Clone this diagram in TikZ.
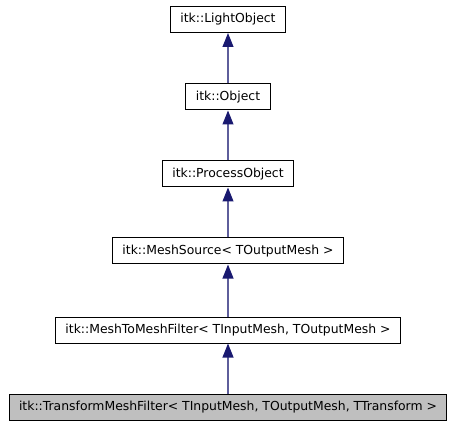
\documentclass[tikz,border=0pt]{standalone}
\usepackage{fontspec}
\setmainfont{DejaVu Sans}
\usetikzlibrary{arrows.meta, positioning}
\definecolor{edgeblue}{HTML}{191970}
\definecolor{classgray}{HTML}{BFBFBF}

\begin{document}
\begin{tikzpicture}[x=0.75pt, y=-0.75pt,
  classbox/.style={rectangle, draw=black, fill=white, line width=0.75pt, minimum height=19.5pt, inner xsep=7.5pt, inner ysep=0pt, font=\fontsize{9.3}{11}\selectfont},
  inherit/.style={-{Triangle[length=10.5pt, width=8.2pt, color=edgeblue]}, draw=edgeblue!70, line width=0.8pt}
]
  \useasboundingbox (0,0) rectangle (456,427);
  \node[classbox] (lightobj) at (228, 19.5) {itk::LightObject};
  \node[classbox] (object) at (228, 97) {itk::Object};
  \node[classbox] (procobj) at (228, 174) {itk::ProcessObject};
  \node[classbox] (meshsrc) at (228, 251) {itk::MeshSource< TOutputMesh >};
  \node[classbox] (mesh2mesh) at (228, 330) {itk::MeshToMeshFilter< TInputMesh, TOutputMesh >};
  \node[classbox, fill=classgray] (transform) at (228, 407) {itk::TransformMeshFilter< TInputMesh, TOutputMesh, TTransform >};

  \draw[inherit] (object) -- (lightobj);
  \draw[inherit] (procobj) -- (object);
  \draw[inherit] (meshsrc) -- (procobj);
  \draw[inherit] (mesh2mesh) -- (meshsrc);
  \draw[inherit] (transform) -- (mesh2mesh);
\end{tikzpicture}
\end{document}
